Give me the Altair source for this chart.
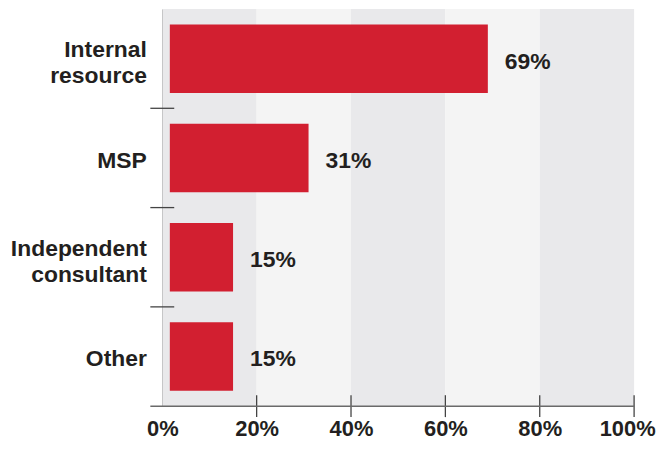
import altair as alt
import pandas as pd

# ---- data ----
categories = ["Internal resource", "MSP", "Independent consultant", "Other"]
values = [69, 31, 15, 15]
x_ticks = [0, 20, 40, 60, 80, 100]
band_shades = ["dark", "light", "dark", "light", "dark"]

# ---- style ----
W, H = 474, 399
RED = "#d21f30"
TEXT = "#231f20"
AXIS = "#6a6a6a"
FONT = "Liberation Sans"
BAR_START = 1.6

bars_df = pd.DataFrame({"cat": categories, "value": values})
bands_df = pd.DataFrame({"start": x_ticks[:-1], "end": x_ticks[1:], "shade": band_shades})
xticks_df = pd.DataFrame({"t": x_ticks[1:]})
yticks_df = pd.DataFrame({"cat": categories[1:]})
one_df = pd.DataFrame({"d": [0]})

xscale = alt.Scale(domain=[0, 100], nice=False, zero=False)
yscale = alt.Scale(domain=categories, paddingInner=0, paddingOuter=0)

X_AXIS = alt.Axis(
    values=x_ticks,
    labelExpr="datum.value + '%'",
    ticks=False,
    domain=False,
    grid=False,
    labelFlush=False,
    labelPadding=12.5,
    labelFont=FONT,
    labelFontSize=22,
    labelFontWeight="bold",
    labelColor=TEXT,
    labelOffset={"condition": {"test": "datum.value == 100", "value": -7}, "value": 0},
    title=None,
)

Y_AXIS = alt.Axis(
    labelExpr="split(datum.label, ' ')",
    ticks=False,
    domain=True,
    domainColor=AXIS,
    domainWidth=1.5,
    grid=False,
    labelPadding=16,
    labelFont=FONT,
    labelFontSize=23,
    labelFontWeight="bold",
    labelColor=TEXT,
    labelLineHeight=26,
    labelLimit=300,
    labelOffset={"condition": {"test": "indexof(datum.value, ' ') > 0", "value": -8.5}, "value": 3},
    title=None,
)

bg = alt.Chart(bands_df).mark_rect().encode(
    x=alt.X("start:Q", scale=xscale, axis=X_AXIS),
    x2="end:Q",
    y=alt.value(0),
    y2=alt.value(H),
    color=alt.Color(
        "shade:N",
        scale=alt.Scale(domain=["dark", "light"], range=["#e9e9eb", "#f4f4f4"]),
        legend=None,
    ),
)

bars = alt.Chart(bars_df).mark_bar(height={"band": 0.69}, color=RED).encode(
    x=alt.X("value:Q", scale=xscale, axis=X_AXIS),
    x2=alt.datum(BAR_START),
    y=alt.Y("cat:N", scale=yscale, sort=categories, axis=Y_AXIS),
)

labels = alt.Chart(bars_df).transform_calculate(
    lbl="datum.value + '%'"
).mark_text(
    align="left", baseline="middle", dx=17, dy=3, font=FONT, fontSize=23,
    fontWeight="bold", color=TEXT,
).encode(
    x=alt.X("value:Q", scale=xscale, axis=X_AXIS),
    y=alt.Y("cat:N", scale=yscale, sort=categories, axis=Y_AXIS),
    text="lbl:N",
)

xticks = alt.Chart(xticks_df).mark_rule(color="#444444", strokeWidth=1.3).encode(
    x=alt.X("t:Q", scale=xscale, axis=X_AXIS),
    y=alt.value(H - 11),
    y2=alt.value(H + 11),
)

yticks = alt.Chart(yticks_df).mark_rule(color="#444444", strokeWidth=1.3).encode(
    y=alt.Y("cat:N", scale=yscale, sort=categories, bandPosition=0, axis=Y_AXIS),
    x=alt.value(-12),
    x2=alt.value(12),
)

xdomain = alt.Chart(one_df).mark_rule(color=AXIS, strokeWidth=1.5).encode(
    x=alt.value(-12),
    x2=alt.value(W),
    y=alt.value(H),
)

chart = alt.layer(bg, bars, labels, xticks, yticks, xdomain).properties(
    width=W,
    height=H,
    autosize=alt.AutoSizeParams(type="none"),
    padding={"left": 155, "right": 22, "top": 0, "bottom": 35},
    background="white",
).configure_view(stroke=None)

chart.save("out.html", embed_options={"renderer": "svg", "actions": False})
